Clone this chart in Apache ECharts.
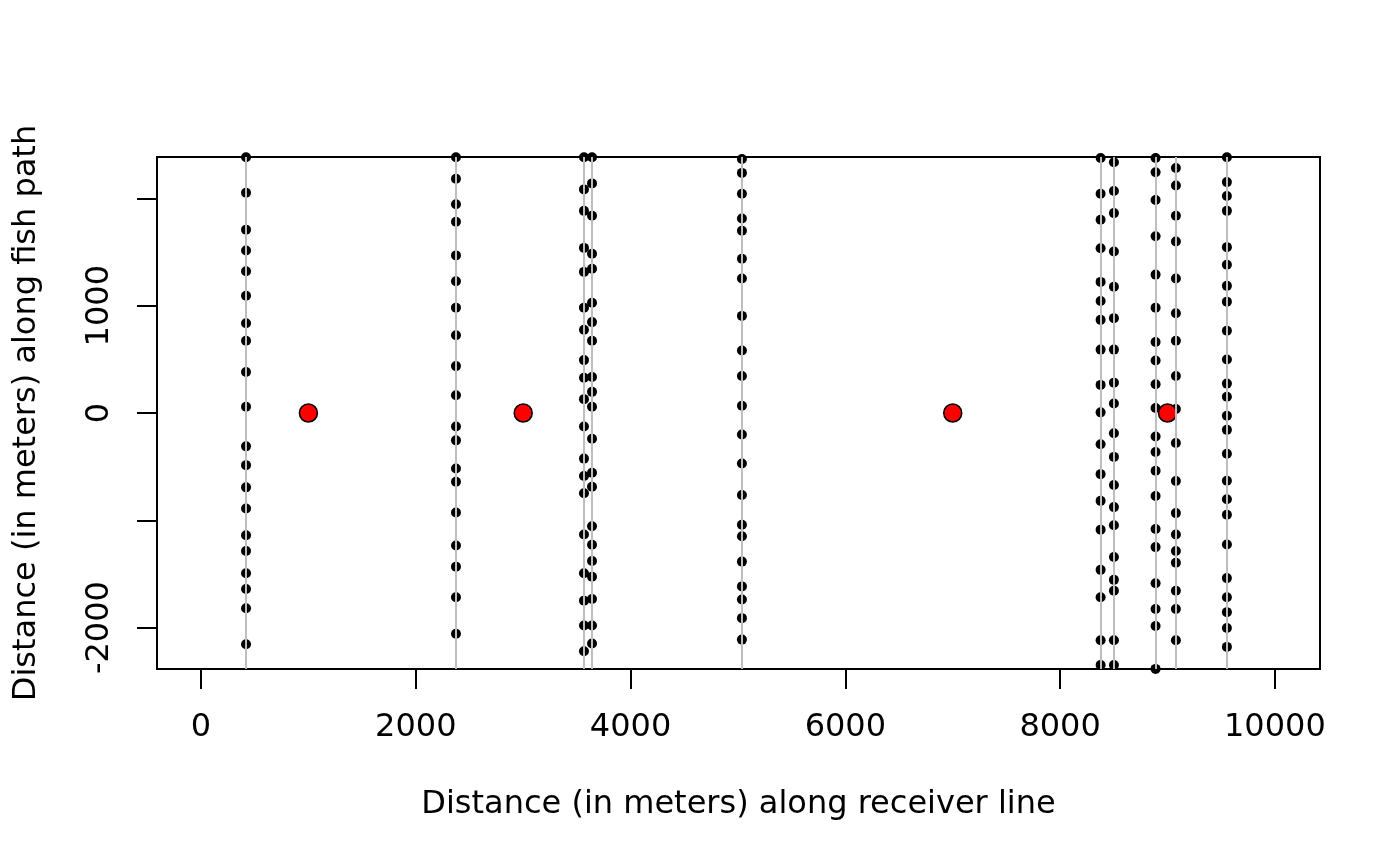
<!DOCTYPE html>
<html><head><meta charset="utf-8">
<script src="https://cdn.jsdelivr.net/npm/echarts@6/dist/echarts.min.js"></script>
<style>html,body{margin:0;padding:0;background:#fff}#c{width:1400px;height:866px}</style>
</head><body><div id="c"></div><script>
// Receiver positions along the receiver line (m)
const receiverX = [419, 2374, 3566, 3641, 5037, 8377, 8501, 8889, 9078, 9553];
// Detection positions along fish path, one array per receiver (m)
const detY1 = [2384, 2053, 1709, 1515, 1321, 1093, 837, 674, 382, 59, -311, -486, -693, -890, -1139, -1287, -1493, -1641, -1820, -2155];
const detY2 = [2384, 2183, 1946, 1783, 1469, 1228, 982, 724, 437, 166, -126, -255, -517, -640, -927, -1235, -1432, -1718, -2057];
const detY3 = [2384, 2084, 1884, 1539, 1315, 982, 776, 493, 329, 129, -126, -425, -588, -748, -1133, -1493, -1749, -1980, -2220];
const detY4 = [2384, 2140, 1838, 1484, 1345, 1028, 847, 674, 336, 197, 59, -240, -557, -687, -1056, -1228, -1379, -1527, -1733, -1980, -2149];
const detY5 = [2368, 2238, 2044, 1813, 1699, 1438, 1253, 905, 582, 345, 68, -200, -471, -764, -1041, -1148, -1385, -1616, -1739, -1912, -2112];
const detY6 = [2377, 2044, 1801, 1536, 1222, 1044, 868, 591, 262, 6, -292, -570, -819, -1087, -1462, -1718, -2118, -2349];
const detY7 = [2337, 2069, 1863, 1505, 1176, 884, 591, 283, 89, -188, -409, -671, -877, -1047, -1342, -1555, -1656, -2118, -2349];
const detY8 = [2377, 2244, 1986, 1647, 1290, 982, 662, 490, 268, 46, -219, -363, -539, -773, -1081, -1250, -1586, -1826, -1986, -2385];
const detY9 = [2284, 2121, 1838, 1598, 1253, 930, 674, 345, 37, -280, -634, -933, -1133, -1287, -1395, -1656, -1826, -2118];
const detY10 = [2384, 2152, 2023, 1884, 1546, 1382, 1185, 1038, 767, 499, 274, 151, -25, -157, -379, -631, -804, -948, -1225, -1539, -1718, -1856, -2004, -2180];
const detYs = [detY1, detY2, detY3, detY4, detY5, detY6, detY7, detY8, detY9, detY10];
// Tag (fish) positions
const tagX = [1000, 3000, 7000, 9000];
const tagY = [0, 0, 0, 0];
// Tick values
const xTicks = [0, 2000, 4000, 6000, 8000, 10000];
const yTicks = [-2000, -1000, 0, 1000, 2000];
const yTickLabels = [-2000, 0, 1000];

const detData = [];
receiverX.forEach((x, i) => detYs[i].forEach(y => detData.push([x, y])));
const tagData = tagX.map((x, i) => [x, tagY[i]]);

const FONT = 'DejaVu Sans';
const chart = echarts.init(document.getElementById('c'), null, {renderer: 'canvas'});
chart.setOption({
  animation: false,
  backgroundColor: '#ffffff',
  textStyle: {fontFamily: FONT},
  grid: {left: 157, right: 80, top: 157, bottom: 197, show: true, borderColor: '#000', borderWidth: 2, backgroundColor: 'transparent', containLabel: false, outerBoundsMode: 'none'},
  xAxis: {
    type: 'value', min: -410, max: 10420, position: 'bottom',
    name: 'Distance (in meters) along receiver line',
    nameLocation: 'middle', nameGap: 120,
    nameTextStyle: {fontSize: 32, color: '#000', fontFamily: FONT},
    axisLine: {show: false, onZero: false},
    axisTick: {show: true, inside: false, length: 20, lineStyle: {color: '#000', width: 2}, customValues: xTicks},
    axisLabel: {show: true, margin: 43, fontSize: 32, color: '#000', fontFamily: FONT, customValues: xTicks, formatter: v => String(v)},
    splitLine: {show: false}
  },
  yAxis: {
    type: 'value', min: -2386, max: 2386, position: 'left',
    name: 'Distance (in meters) along fish path',
    nameLocation: 'middle', nameGap: 114, nameRotate: 90,
    nameTextStyle: {fontSize: 32, color: '#000', fontFamily: FONT},
    axisLine: {show: false, onZero: false},
    axisTick: {show: true, inside: false, length: 20, lineStyle: {color: '#000', width: 2}, customValues: yTicks},
    axisLabel: {show: true, rotate: 90, margin: 41, fontSize: 32, color: '#000', fontFamily: FONT, customValues: yTickLabels, formatter: v => String(v)},
    splitLine: {show: false}
  },
  series: [
    {
      type: 'scatter', data: [], z: 1, silent: true,
      markLine: {
        silent: true, symbol: ['none', 'none'], label: {show: false},
        lineStyle: {color: '#BEBEBE', width: 2, type: 'solid'},
        emphasis: {disabled: true},
        data: receiverX.map(x => ({xAxis: x}))
      }
    },
    {
      type: 'scatter', data: detData, z: 3, clip: true, silent: true,
      symbol: 'circle', symbolSize: 10,
      itemStyle: {color: '#000', opacity: 1}
    },
    {
      type: 'scatter', data: tagData, z: 4, clip: true, silent: true,
      symbol: 'circle', symbolSize: 18,
      itemStyle: {color: '#FF0000', borderColor: '#000', borderWidth: 1.5, opacity: 1}
    }
  ]
});
</script></body></html>
